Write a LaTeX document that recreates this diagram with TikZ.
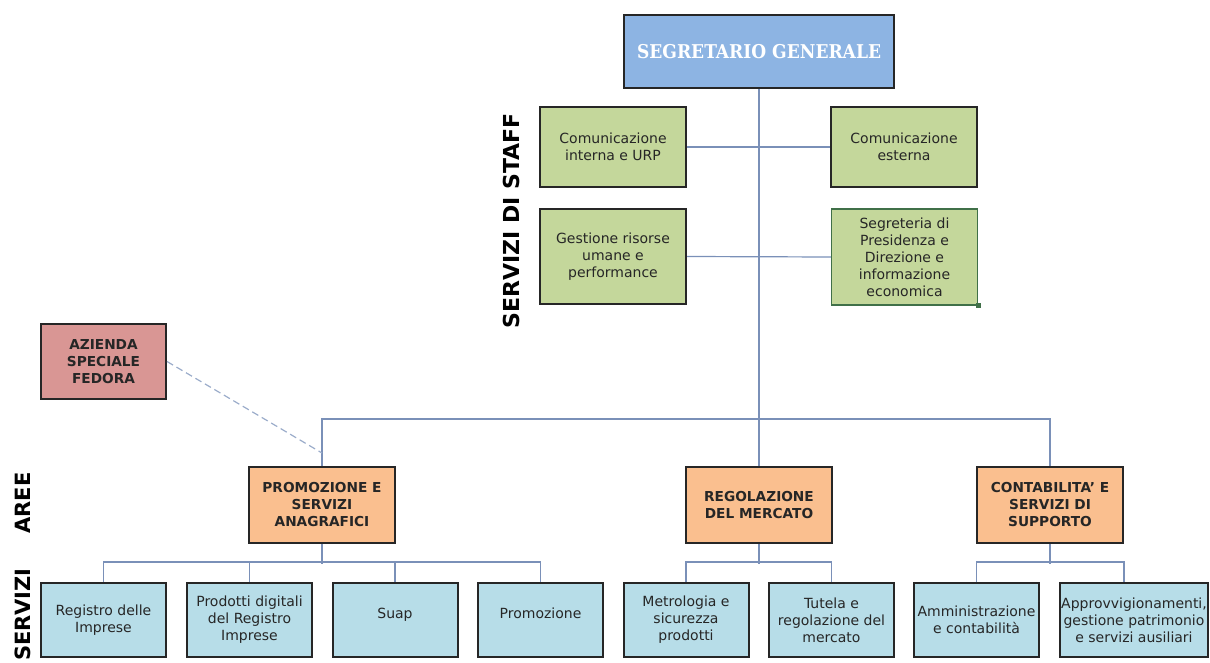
\documentclass[tikz,border=0pt]{standalone}
\usepackage{fontspec}
\setmainfont{DejaVu Sans}
\newfontfamily\titlefont{DejaVu Serif Condensed}
\definecolor{sgblue}{RGB}{141,180,227}
\definecolor{staffgreen}{RGB}{196,215,155}
\definecolor{aziendared}{RGB}{217,150,148}
\definecolor{areaorange}{RGB}{250,191,143}
\definecolor{servblue}{RGB}{183,221,232}
\definecolor{linkblue}{RGB}{122,144,184}
\definecolor{segrframe}{RGB}{64,112,72}
\begin{document}
\begin{tikzpicture}[x=1pt,y=-1pt,
  box/.style={draw=black!85,line width=2pt,align=center,inner sep=2pt,text=black!85},
  staff/.style={box,fill=staffgreen,minimum width=146pt,font=\fontsize{14}{17}\selectfont},
  area/.style={box,fill=areaorange,minimum width=146pt,minimum height=76pt,font=\bfseries\fontsize{13.7}{17}\selectfont},
  serv/.style={box,fill=servblue,minimum width=125pt,minimum height=74pt,font=\fontsize{14}{17}\selectfont},
  link/.style={draw=linkblue,line width=1.2pt},
  sidelabel/.style={rotate=90,inner sep=0pt,font=\bfseries\fontsize{21}{21}\selectfont}]
\useasboundingbox (0,0) rectangle (1210,663);
\clip (0,0) rectangle (1210,663);

\node[box,fill=sgblue,minimum width=270pt,minimum height=73pt,text=white,
  font=\titlefont\bfseries\fontsize{19}{22}\selectfont] (sg) at (759,51.5) {SEGRETARIO GENERALE};

\node[staff,minimum height=80pt] (cint) at (613,147) {Comunicazione\\interna e URP};
\node[staff,minimum height=80pt] (cest) at (904,147) {Comunicazione\\esterna};
\node[staff,minimum height=95pt] (gris) at (613,256.5) {Gestione risorse\\umane e\\performance};
\node[staff,minimum height=96pt,draw=segrframe,line width=1.5pt] (segr) at (904.5,257)
  {Segreteria di\\Presidenza e\\Direzione e\\informazione\\economica};
\node[fill=segrframe,minimum size=5pt,inner sep=0pt] (handle) at (segr.south east) {};

\node[box,fill=aziendared,minimum width=125pt,minimum height=75pt,
  font=\bfseries\fontsize{13.7}{17}\selectfont] (az) at (103.5,361.5) {AZIENDA\\SPECIALE\\FEDORA};

\node[area] (promo) at (322,505) {PROMOZIONE E\\SERVIZI\\ANAGRAFICI};
\node[area] (reg) at (759,505) {REGOLAZIONE\\DEL MERCATO};
\node[area] (cont) at (1050,505) {CONTABILITA\symbol{39} E\\SERVIZI DI\\SUPPORTO};

\node[serv] (s1) at (103.5,620) {Registro delle\\Imprese};
\node[serv] (s2) at (249.5,620) {Prodotti digitali\\del Registro\\Imprese};
\node[serv] (s3) at (395,620) {Suap\\[-3pt]};
\node[serv] (s4) at (540.5,620) {Promozione\\[-3pt]};
\node[serv] (s5) at (686,620) {Metrologia e\\sicurezza\\prodotti};
\node[serv] (s6) at (831.5,620) {Tutela e\\regolazione del\\mercato};
\node[serv] (s7) at (976.5,620) {Amministrazione\\e contabilità};
\node[serv,minimum width=148pt,inner sep=1pt] (s8) at (1134,620) {Approvvigionamenti,\\gestione patrimonio\\e servizi ausiliari};

\node[sidelabel,font=\bfseries\fontsize{22}{22}\selectfont] (stafflbl) at (511,221) {SERVIZI DI STAFF};
\node[sidelabel] (areelbl) at (23,503) {AREE};
\node[sidelabel,anchor=east] (servlbl) at (23,568) {SERVIZI};

\draw[link] (sg.south) -- (reg.north);
\draw[link] (cint.east) -- (cest.west);
\draw[link] (gris.east) -- (segr.west);
\draw[link] (promo.north) -- ++(0,-47) -| (cont.north);
\coordinate (dashend) at (322,453);
\draw[link,dash pattern=on 7pt off 4pt,draw=linkblue!75] (az.east) -- (dashend);

\draw[link] (promo.south) -- ++(0,20);
\draw[link] (s1.north) -- ++(0,-20) -| (s4.north);
\draw[link] (s2.north) -- ++(0,-20);
\draw[link] (s3.north) -- ++(0,-20);
\draw[link] (reg.south) -- ++(0,20);
\draw[link] (s5.north) -- ++(0,-20) -| (s6.north);
\draw[link] (cont.south) -- ++(0,20);
\draw[link] (s7.north) -- ++(0,-20) -| (cont.east |- s8.north);
\end{tikzpicture}
\end{document}
